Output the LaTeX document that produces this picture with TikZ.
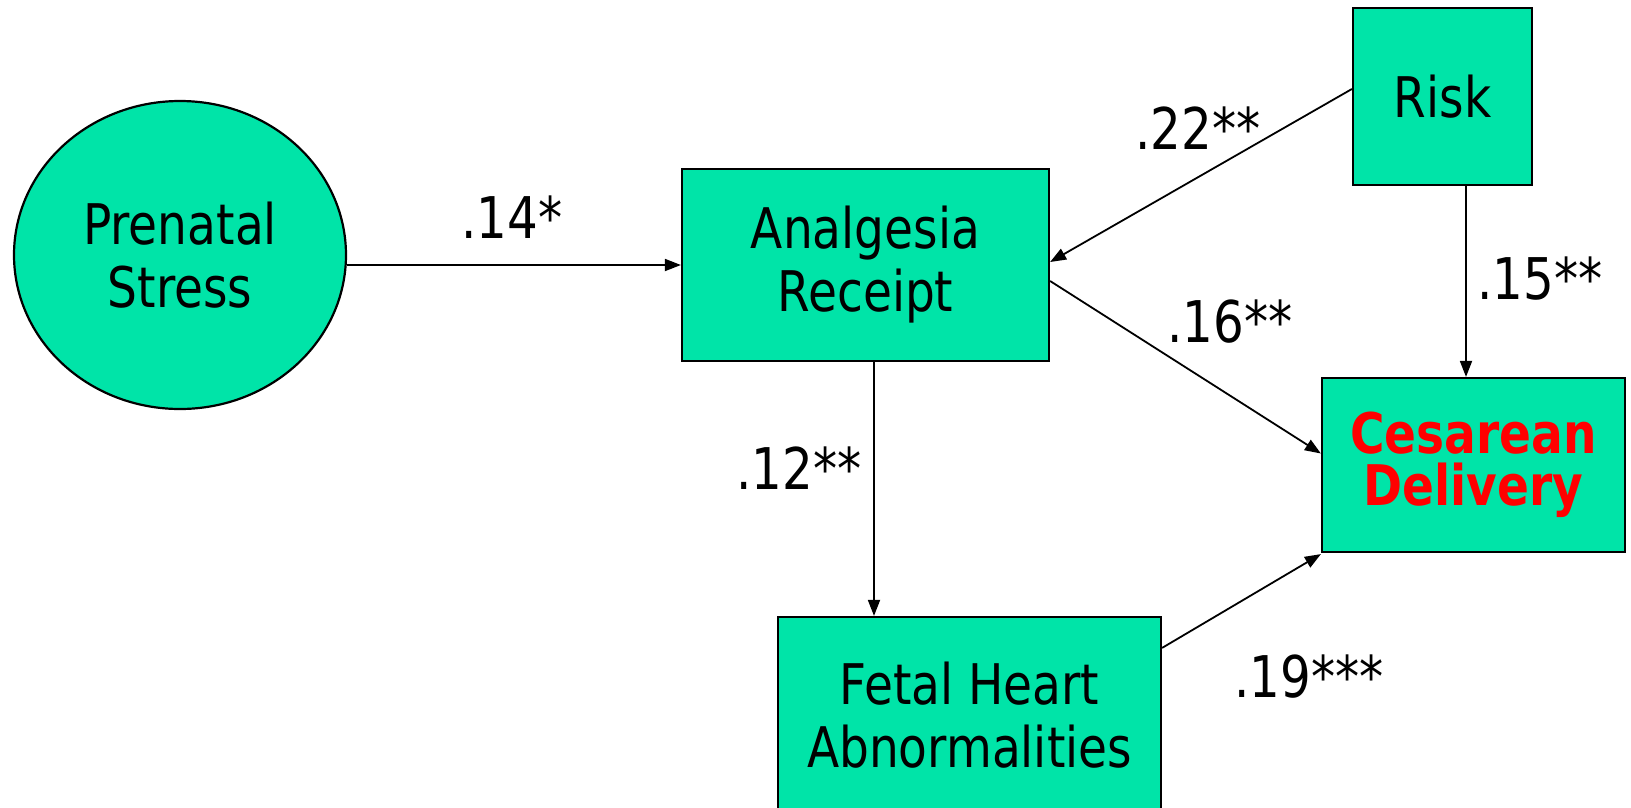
\documentclass[tikz,border=0pt]{standalone}
\usepackage{fontspec}
\setmainfont{DejaVu Sans}[FakeStretch=0.84]
\usetikzlibrary{shapes.geometric,arrows.meta,calc}
\definecolor{mint}{HTML}{00E4A8}
\definecolor{cred}{HTML}{FF0000}
\begin{document}
\begin{tikzpicture}[x=1pt,y=-1pt,
  shapebox/.style={draw=black, line width=2.2pt, fill=mint, align=center, inner sep=0pt,
    font=\fontsize{56}{63}\selectfont},
  rectbox/.style={shapebox, rectangle},
  ellbox/.style={shapebox, ellipse},
  lbl/.style={font=\fontsize{57.5}{62}\selectfont, inner sep=0pt},
  conn/.style={line width=1.8pt, -{Triangle[length=16pt,width=12pt]}}]
\useasboundingbox (0,0) rectangle (1631,807);
\clip (0,0) rectangle (1631,807);
\fill[white] (0,0) rectangle (1631,807);

\node[ellbox, minimum width=332pt, minimum height=308pt] (prenatal) at (180,255) {Prenatal\\Stress};
\node[rectbox, minimum width=367pt, minimum height=192pt] (analgesia) at (865.5,265) {Analgesia\\Receipt};
\node[rectbox, minimum width=179pt, minimum height=177pt] (risk) at (1442.5,96.5) {Risk};
\node[rectbox, minimum width=303pt, minimum height=174pt, text=cred,
  font=\fontsize{56}{52}\selectfont\bfseries] (cesarean) at (1473.5,465) {Cesarean\\Delivery};
\node[rectbox, minimum width=383pt, minimum height=196pt] (fetal) at (969.5,715) {Fetal Heart\\Abnormalities};

\draw[conn] (analgesia.west -| prenatal.east) -- (analgesia.west);
\draw[conn] ([yshift=7.5pt]risk.west) -- ([yshift=3pt]analgesia.east);
\draw[conn] ([yshift=-16pt]analgesia.east) -- ([yshift=11.5pt]cesarean.west);
\draw[conn] ([xshift=23.5pt]risk.south) -- ([xshift=23.5pt]risk.south |- cesarean.north);
\draw[conn] ([xshift=8.5pt]analgesia.south) -- ([xshift=8.5pt]analgesia.south |- fetal.north);
\draw[conn] ([yshift=-32pt]fetal.north east) -- ([yshift=-1pt]cesarean.south west);

\node[lbl] (l14) at (512,217) {.14*};
\node[lbl] (l22) at (1198,128) {.22**};
\node[lbl] (l16) at (1230,322) {.16**};
\node[lbl] (l15) at (1540,279) {.15**};
\node[lbl] (l12) at (799,468) {.12**};
\node[lbl] (l19) at (1309,677) {.19***};
\end{tikzpicture}
\end{document}
